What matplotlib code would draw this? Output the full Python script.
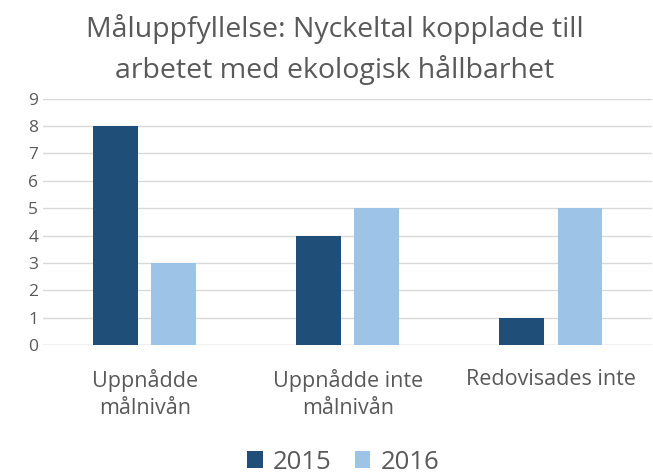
import numpy as np
import matplotlib.pyplot as plt

categories = ['Uppnådde\nmålnivån', 'Uppnådde inte\nmålnivån', 'Redovisades inte']
v2015 = [8, 4, 1]
v2016 = [3, 5, 5]
yticks = list(range(0, 10))

plt.rcParams['font.family'] = ['Open Sans', 'DejaVu Sans']

fig = plt.figure(figsize=(6.53, 4.74), dpi=100)
ax = fig.add_axes([0.066, 0.272, 0.933, 0.52])

x = np.arange(len(categories))
w = 0.22
ax.bar(x - 0.143, v2015, w, color='#1F4E79', label='2015', zorder=3)
ax.bar(x + 0.143, v2016, w, color='#9DC3E6', label='2016', zorder=3)

ax.set_xlim(-0.5, 2.5)
ax.set_ylim(0, 9)
ax.set_yticks(yticks)
ax.yaxis.grid(True, color='#D9D9D9', linewidth=1, zorder=0)
for s in ax.spines.values():
    s.set_visible(False)
ax.axhline(0, color='#D9D9D9', linewidth=1, zorder=1)
ax.tick_params(length=0, colors='#595959', labelsize=12.5)
ax.tick_params(axis='x', pad=17)
ax.set_xticks(x)
ax.set_xticklabels(categories, fontsize=15.5, color='#595959', linespacing=1.4)

fig.text(0.513, 0.97, 'Måluppfyllelse: Nyckeltal kopplade till\narbetet med ekologisk hållbarhet',
         ha='center', va='top', fontsize=20.5, color='#595959', linespacing=1.45)

fig.legend(loc='center', bbox_to_anchor=(0.526, 0.025), ncol=2, frameon=False,
           fontsize=18.5, handlelength=0.6, handleheight=0.6, handletextpad=0.4,
           columnspacing=0.9, labelcolor='#595959')

fig.savefig('out.png')
